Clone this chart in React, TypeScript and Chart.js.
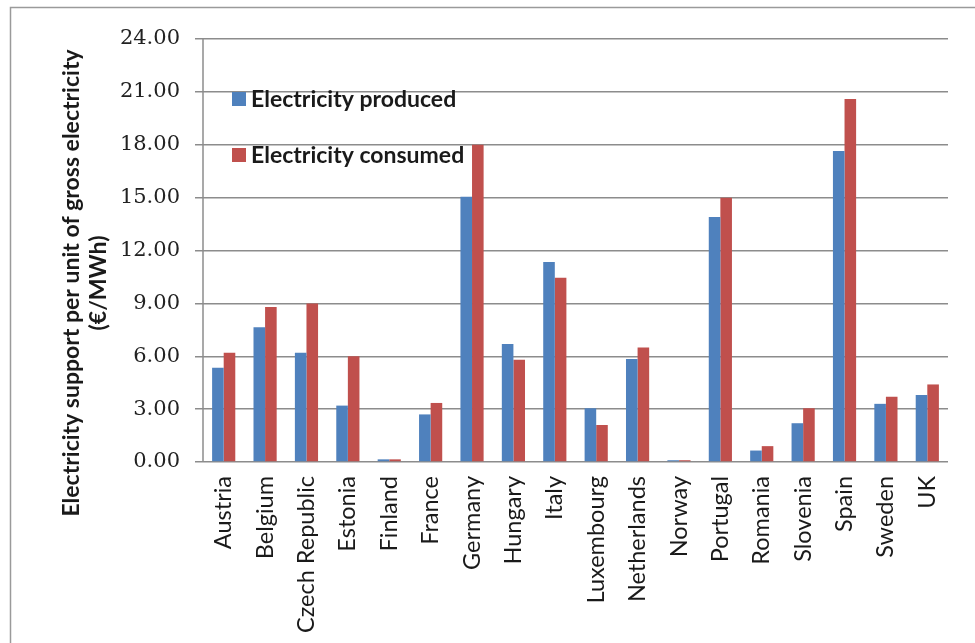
import React, { useEffect, useRef } from "react";
import { Chart, registerables } from "chart.js";

Chart.register(...registerables);

const categories = [
  "Austria", "Belgium", "Czech Republic", "Estonia", "Finland", "France",
  "Germany", "Hungary", "Italy", "Luxembourg", "Netherlands", "Norway",
  "Portugal", "Romania", "Slovenia", "Spain", "Sweden", "UK",
];
const produced = [5.35, 7.65, 6.2, 3.2, 0.15, 2.7, 15.05, 6.7, 11.35, 3.05, 5.85, 0.1, 13.9, 0.65, 2.2, 17.65, 3.3, 3.8];
const consumed = [6.2, 8.8, 9.0, 6.0, 0.15, 3.35, 18.0, 5.8, 10.45, 2.1, 6.5, 0.1, 15.0, 0.9, 3.05, 20.6, 3.7, 4.4];
const seriesNames = ["Electricity produced", "Electricity consumed"];
const yTitleLines = ["Electricity support per unit of gross electricity", "(€/MWh)"];

const BLUE = "#4F81BD";
const RED = "#C0504D";
const GRID = "#8c8c8c";
const SANS = "Lato, 'Liberation Sans', sans-serif";

const decorPlugin = {
  id: "decor",
  beforeDraw(chart: any) {
    const ctx = chart.ctx;
    ctx.save();
    ctx.fillStyle = "#ffffff";
    ctx.fillRect(0, 0, chart.width, chart.height);
    ctx.strokeStyle = "#9a9a9a";
    ctx.lineWidth = 1.5;
    ctx.strokeRect(10.5, 7.5, chart.width + 10, chart.height + 10);
    ctx.restore();
  },
  afterDraw(chart: any) {
    const ctx = chart.ctx;
    const area = chart.chartArea;
    ctx.save();
    // y axis title
    ctx.fillStyle = "#1a1a1a";
    ctx.font = "bold 23px " + SANS;
    ctx.textAlign = "center";
    ctx.textBaseline = "middle";
    const cy = 283;
    const xs = [72, 99];
    yTitleLines.forEach((t, i) => {
      ctx.save();
      ctx.translate(xs[i], cy);
      ctx.rotate(-Math.PI / 2);
      ctx.fillText(t, 0, 0);
      ctx.restore();
    });
    // legend
    const colors = [BLUE, RED];
    const ys = [99, 155];
    ctx.font = "bold 23px " + SANS;
    ctx.textAlign = "left";
    seriesNames.forEach((n, i) => {
      ctx.fillStyle = colors[i];
      ctx.fillRect(232, ys[i] - 7, 14, 14);
      ctx.fillStyle = "#1a1a1a";
      ctx.fillText(n, 251, ys[i] + 1);
    });
    // left axis line
    ctx.strokeStyle = GRID;
    ctx.lineWidth = 1.5;
    ctx.beginPath();
    ctx.moveTo(area.left, area.top);
    ctx.lineTo(area.left, area.bottom);
    ctx.stroke();
    ctx.restore();
  },
};

export default function App() {
  const ref = useRef<HTMLCanvasElement>(null);
  useEffect(() => {
    if (!ref.current) return;
    const chart = new Chart(ref.current, {
      type: "bar",
      data: {
        labels: categories,
        datasets: [
          { label: seriesNames[0], data: produced, backgroundColor: BLUE, categoryPercentage: 0.56, barPercentage: 1.0 },
          { label: seriesNames[1], data: consumed, backgroundColor: RED, categoryPercentage: 0.56, barPercentage: 1.0 },
        ],
      },
      options: {
        animation: false,
        responsive: false,
        maintainAspectRatio: false,
        layout: { padding: { top: 39, right: 27, bottom: 0, left: 0 } },
        plugins: { legend: { display: false }, tooltip: { enabled: false } },
        scales: {
          x: {
            grid: { display: false, drawTicks: false },
            border: { display: false },
            ticks: {
              maxRotation: 90,
              minRotation: 90,
              autoSkip: false,
              padding: 14,
              color: "#1a1a1a",
              font: { family: SANS, size: 23.5 },
            },
            afterFit(scale: any) {
              scale.height = 643 - 462;
            },
          },
          y: {
            min: 0,
            max: 24,
            border: { display: false },
            grid: { color: GRID, lineWidth: 1.5, tickLength: 8 },
            ticks: {
              stepSize: 3,
              padding: 15,
              color: "#222222",
              font: { family: "'DejaVu Serif', 'Liberation Serif', serif", size: 21 },
              callback: (v: any) => Number(v).toFixed(2),
            },
            afterFit(scale: any) {
              scale.width = 203;
            },
          },
        },
      },
      plugins: [decorPlugin],
    });
    return () => chart.destroy();
  }, []);
  return (
    <div style={{ position: "absolute", left: 0, top: 0, width: 975, height: 643 }}>
      <canvas ref={ref} width={975} height={643} style={{ display: "block" }} />
    </div>
  );
}
